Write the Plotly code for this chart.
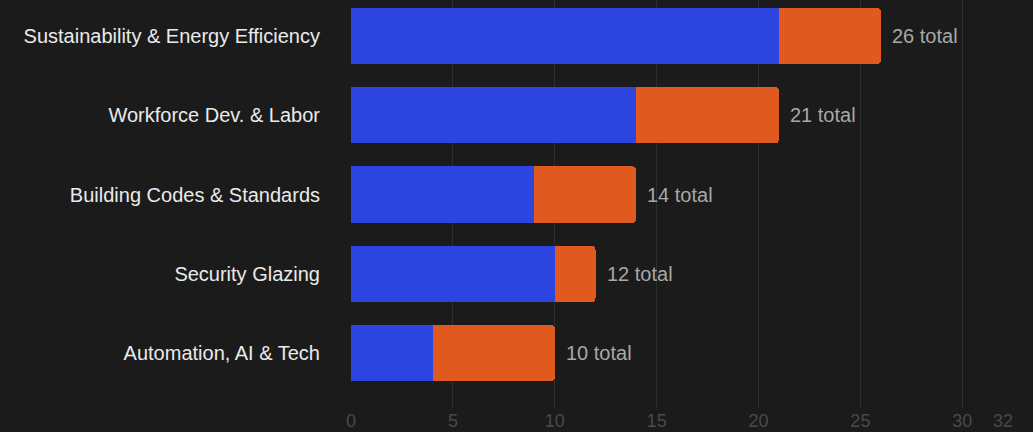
import plotly.graph_objects as go

categories = ["Automation, AI & Tech", "Security Glazing", "Building Codes & Standards",
              "Workforce Dev. & Labor", "Sustainability & Energy Efficiency"]
series_a = [4, 10, 9, 14, 21]
series_b = [6, 2, 5, 7, 5]
totals = [a + b for a, b in zip(series_a, series_b)]
tick_vals = [0, 5, 10, 15, 20, 25, 30, 32]

fig = go.Figure()
fig.add_trace(go.Bar(y=categories, x=series_a, orientation="h", marker_color="#2c45e0",
                     marker_line_width=0, showlegend=False))
fig.add_trace(go.Bar(y=categories, x=series_b, orientation="h", marker_color="#e05a20",
                     marker_line_width=0, showlegend=False))

for cat, t in zip(categories, totals):
    fig.add_annotation(x=t, y=cat, text=f"{t} total", showarrow=False, xanchor="left",
                       xshift=9, font=dict(size=20, color="#a8a8a8",
                                           family="Liberation Sans, Arial"))

fig.update_layout(
    width=1033, height=432,
    barmode="stack", bargap=0.29, barcornerradius=4,
    paper_bgcolor="#1b1b1b", plot_bgcolor="#1b1b1b",
    margin=dict(l=351, r=30, t=0, b=24),
    font=dict(family="Liberation Sans, Arial", color="#e8e8e8"),
    xaxis=dict(range=[0, 32], tickvals=tick_vals, showgrid=True, gridcolor="#2e2e2e",
               gridwidth=1, zeroline=False, showline=False,
               tickfont=dict(size=18, color="#4a4a4a"), ticks="", fixedrange=True),
    yaxis=dict(categoryorder="array", categoryarray=categories, range=[-0.694, 4.456],
               showgrid=False, zeroline=False, showline=False, ticks="",
               tickfont=dict(size=20, color="#eaeaea"), ticklabelstandoff=30),
)

fig.write_html("out.html", config={"displayModeBar": False},
               post_script="document.body.style.margin='0';document.body.style.background='#1b1b1b';document.body.style.overflow='hidden';")
